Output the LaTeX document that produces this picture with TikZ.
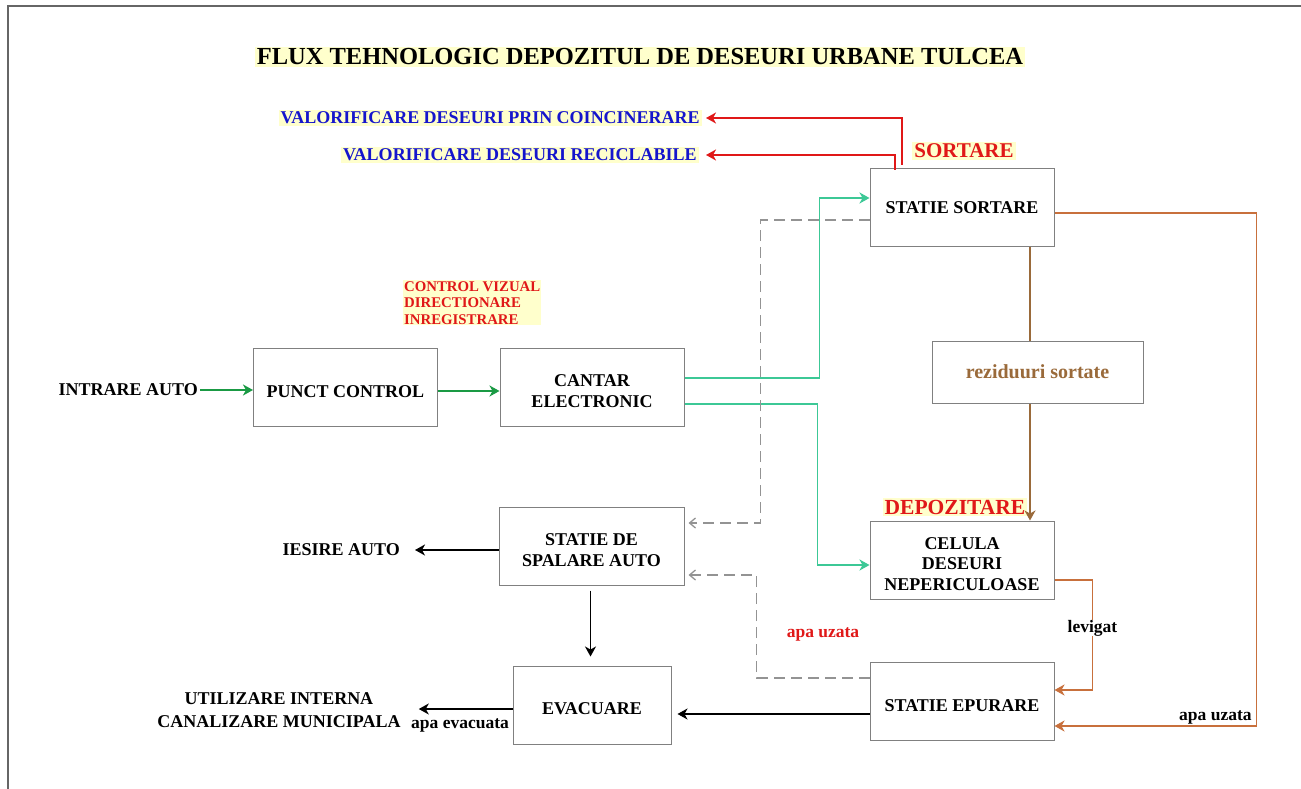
\documentclass[tikz,border=0pt]{standalone}
\usepackage{fontspec}
\setmainfont{Liberation Serif}
\usetikzlibrary{arrows.meta,calc}
\definecolor{hl}{HTML}{FFFFCC}
\definecolor{tealc}{HTML}{3CC896}
\definecolor{greenc}{HTML}{1A9A44}
\definecolor{redc}{HTML}{E01818}
\definecolor{brownc}{HTML}{9A6A3A}
\definecolor{orangec}{HTML}{C8703C}
\definecolor{bluec}{HTML}{1515CC}
\definecolor{boxc}{HTML}{808080}
\tikzset{
  stepbox/.style={draw=boxc, line width=1pt, minimum width=184pt, minimum height=78pt, inner sep=0pt},
  boxtext/.style={align=center, font=\fontsize{18}{20.5}\selectfont\bfseries, inner sep=0pt},
  lbl/.style={inner sep=0pt, font=\fontsize{18}{20}\selectfont\bfseries},
  small/.style={inner sep=0pt, font=\fontsize{17.5}{20}\selectfont\bfseries},
  hlbl/.style={fill=hl, inner sep=2pt},
  tip/.style={-{Stealth[length=10pt,width=11pt,inset=3pt]}},
  greenar/.style={tip, draw=greenc, line width=1.8pt},
  tealar/.style={tip, draw=tealc, line width=1.8pt},
  redar/.style={tip, draw=redc, line width=1.8pt},
  brownar/.style={tip, draw=brownc, line width=2.8pt},
  orangear/.style={tip, draw=orangec, line width=1.8pt},
  blkar/.style={tip, draw=black, line width=1.4pt},
  dashar/.style={-{Straight Barb[length=6pt,width=10pt]}, draw=gray!85, line width=1.3pt, dash pattern=on 11pt off 6pt},
}
\begin{document}
\begin{tikzpicture}[x=1pt,y=-1pt]
\useasboundingbox (0,0) rectangle (1301,789);
\fill[white] (0,0) rectangle (1301,789);
\draw[gray!80!black, line width=1.3pt] (8,789) -- (8,6) -- (1301,6);

% title
\node[hlbl, font=\fontsize{24.5}{26}\selectfont\bfseries] (title) at (640,57) {FLUX TEHNOLOGIC DEPOZITUL DE DESEURI URBANE TULCEA};

% boxes
\node[stepbox] (ss) at (962,207) {};
\node[boxtext] (ssT) at ([yshift=-1pt]ss.center) {STATIE SORTARE};
\node[stepbox] (pc) at (345.5,387) {};
\node[boxtext] (pcT) at ([yshift=-5pt]pc.center) {PUNCT CONTROL};
\node[stepbox] (cantar) at (592,387) {};
\node[boxtext] (cantarT) at ([yshift=-4pt]cantar.center) {CANTAR\\ELECTRONIC};
\node[stepbox, minimum width=185pt] (spal) at (591.5,546) {};
\node[boxtext] (spalT) at ([yshift=-4pt]spal.center) {STATIE DE\\SPALARE AUTO};
\node[stepbox, minimum width=158pt] (evac) at (592,705) {};
\node[boxtext] (evacT) at ([yshift=-4pt]evac.center) {EVACUARE};
\node[stepbox] (cel) at (962,560) {};
\node[boxtext] (celT) at ([yshift=-4pt]cel.center) {CELULA\\DESEURI\\NEPERICULOASE};
\node[stepbox] (ep) at (962,701) {};
\node[boxtext] (epT) at ([yshift=-5pt]ep.center) {STATIE EPURARE};

% labels
\node[hlbl, anchor=east, text=bluec, font=\fontsize{18}{20}\selectfont\bfseries] (val1) at (702,118) {VALORIFICARE DESEURI PRIN COINCINERARE};
\node[hlbl, anchor=east, text=bluec, font=\fontsize{18}{20}\selectfont\bfseries] (val2) at (699,155) {VALORIFICARE DESEURI RECICLABILE};
\node[hlbl, text=redc, font=\fontsize{21}{23}\selectfont\bfseries] (sortare) at (964,151) {SORTARE};
\node[hlbl, text=redc, font=\fontsize{21.5}{23}\selectfont\bfseries] (depoz) at (955,507) {DEPOZITARE};
\node[hlbl, anchor=north west, align=left, text=redc, font=\fontsize{14.8}{16.5}\selectfont\bfseries, inner sep=1pt] (ctrl) at (403,280) {CONTROL VIZUAL\\DIRECTIONARE\\INREGISTRARE};
\node[lbl, anchor=east] (intrare) at (198,390) {INTRARE AUTO};
\node[lbl, anchor=east] (iesire) at (400,550) {IESIRE AUTO};
\node[lbl, align=center, font=\fontsize{18}{23}\selectfont\bfseries] (util) at (279,710) {UTILIZARE INTERNA\\CANALIZARE MUNICIPALA};
\node[small] (apaev) at (460,725) {apa evacuata};
\node[small, text=redc] (apauzr) at (823,634) {apa uzata};

% connectors
\draw[greenar, shorten <=2pt] (intrare.east) -- (pc.west |- intrare.east);
\draw[greenar] ([yshift=-4pt]pc.east) -- ([yshift=-4pt]cantar.west);
\draw[tealar] ([yshift=9pt]cantar.east) -- ++(135,0) |- ([yshift=9pt]ss.west);
\draw[tealar] ([yshift=-17pt]cantar.east) -- ++(133,0) |- ([yshift=-5pt]cel.west);
\draw[redar] ([xshift=-60pt,yshift=3pt]ss.north) |- ([xshift=4pt]val1.east);
\draw[redar] ([xshift=-67pt,yshift=-2pt]ss.north) |- ([xshift=7pt]val2.east);
\draw[dashar] ([yshift=-13pt]ss.west) -- ++(-109,0) |- ([yshift=23pt,xshift=4pt]spal.east);
\draw[dashar] ([yshift=23pt]ep.west) -- ++(-113,0) |- ([yshift=-29pt,xshift=4pt]spal.east);
\draw[brownar] ([xshift=68pt]ss.south) -- ([xshift=68pt]cel.north);
\node[draw=boxc, line width=1pt, fill=white, minimum width=211pt, minimum height=62pt, text=brownc, font=\fontsize{20}{22}\selectfont\bfseries] (rez) at (1037.5,372) {reziduuri sortate};
\draw[orangear] ([yshift=-6pt]ss.east) -- ++(202,0) |- node[pos=0.5, anchor=south east, xshift=-4pt, yshift=1pt, small, text=black] (apauz) {apa uzata} ([yshift=-25pt]ep.east);
\draw[orangear] ([yshift=-20pt]cel.east) -- ++(38,0) |- node[pos=0.22, fill=white, inner sep=2pt, small, text=black] (levigat) {levigat} ([yshift=11pt]ep.east);
\draw[blkar, shorten <=5pt, shorten >=9pt] ([xshift=-1pt]spal.south) -- ([xshift=-1pt]spal.south |- evac.north);
\draw[blkar, shorten >=6pt] ([yshift=-13pt]ep.west) -- ([yshift=-9pt]evac.east);
\draw[blkar, shorten >=18pt] ([yshift=-4pt]evac.west) -- ([yshift=1pt]util.east);
\draw[blkar, shorten >=15pt] (spal.west |- iesire.east) -- (iesire.east);
\end{tikzpicture}
\end{document}
